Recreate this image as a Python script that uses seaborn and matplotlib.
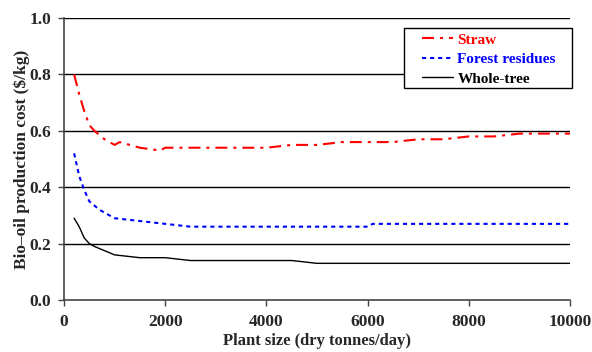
import matplotlib
matplotlib.use("Agg")
import matplotlib.pyplot as plt
from matplotlib.patches import Rectangle
import seaborn as sns
import pandas as pd

straw_x = [200, 300, 400, 500, 600, 800, 1000, 1100, 1500, 1900, 2000, 4000, 4500, 5000, 5500, 6500, 7000, 7500, 8000, 8500, 9000, 10000]
straw_y = [0.80, 0.73, 0.67, 0.62, 0.60, 0.57, 0.55, 0.56, 0.54, 0.53, 0.54, 0.54, 0.55, 0.55, 0.56, 0.56, 0.57, 0.57, 0.58, 0.58, 0.59, 0.59]
forest_x = [200, 300, 400, 500, 700, 1000, 1500, 2000, 2500, 6000, 6100, 10000]
forest_y = [0.52, 0.44, 0.39, 0.35, 0.32, 0.29, 0.28, 0.27, 0.26, 0.26, 0.27, 0.27]
tree_x = [200, 300, 400, 500, 600, 800, 1000, 1500, 2000, 2100, 2500, 4500, 5000, 10000]
tree_y = [0.29, 0.26, 0.22, 0.20, 0.19, 0.175, 0.16, 0.15, 0.15, 0.148, 0.14, 0.14, 0.13, 0.13]

series_names = ["Straw", "Forest residues", "Whole-tree"]
colors = ["#ff0000", "#0000ff", "#000000"]
x_ticks = [0, 2000, 4000, 6000, 8000, 10000]
y_ticks = [0.0, 0.2, 0.4, 0.6, 0.8, 1.0]

sns.set_theme(style="white")
plt.rcParams["font.family"] = ["Liberation Serif", "DejaVu Serif"]
plt.rcParams["font.weight"] = "bold"
plt.rcParams["lines.scale_dashes"] = False

fig = plt.figure(figsize=(5.92, 3.52), dpi=100)
ax = fig.add_axes([64/592, 1-300/352, (570-64)/592, (300-18)/352])

styles = [(0, (8.6, 4.3, 2.2, 4.3)), (0, (3.0, 2.8)), "-"]
widths = [1.5, 1.5, 1.0]
data = [(straw_x, straw_y), (forest_x, forest_y), (tree_x, tree_y)]
for (xs, ys), name, c, ls, lw in zip(data, series_names, colors, styles, widths):
    df = pd.DataFrame({"x": xs, "y": ys})
    sns.lineplot(data=df, x="x", y="y", ax=ax, color=c, linestyle=ls, lw=lw, label=name, zorder=3)

ax.set_xlim(0, 10000)
ax.set_ylim(0, 1.0)
ax.set_xticks(x_ticks)
ax.set_yticks(y_ticks)
ax.set_xticklabels([str(t) for t in x_ticks], fontsize=12.5, fontweight="bold")
ax.set_yticklabels([f"{t:.1f}" for t in y_ticks], fontsize=12.5, fontweight="bold")
ax.set_xlabel("Plant size (dry tonnes/day)", fontsize=12, fontweight="bold", labelpad=2)
ax.set_ylabel("Bio\u2013oil production cost ($/kg)", fontsize=12.5, fontweight="bold", labelpad=0)

for y in y_ticks[1:]:
    ax.axhline(y, color="black", lw=1.0, zorder=1)

for s in ["top", "right"]:
    ax.spines[s].set_visible(False)
for s in ["left", "bottom"]:
    ax.spines[s].set_color("#444444")
    ax.spines[s].set_linewidth(1.2)
ax.tick_params(axis="both", direction="out", length=4, width=1.0, color="#444444", left=True, bottom=True, pad=5)
ax.tick_params(axis="x", pad=6)

# legend frame
ax.add_patch(Rectangle((340/506, 212/282), 168/506, 60/282, transform=ax.transAxes,
                       facecolor="white", edgecolor="black", lw=1.0, clip_on=False, zorder=4))
leg = ax.legend(loc="upper left", bbox_to_anchor=((422-64)/506, (300-33)/282), frameon=False,
                fontsize=11, handlelength=2.05, handletextpad=0.27,
                borderpad=0, labelspacing=0.38, borderaxespad=0)
leg.set_zorder(5)
for t, c in zip(leg.get_texts(), colors):
    t.set_color(c)
    t.set_fontweight("bold")

fig.savefig("out.png", dpi=100)
